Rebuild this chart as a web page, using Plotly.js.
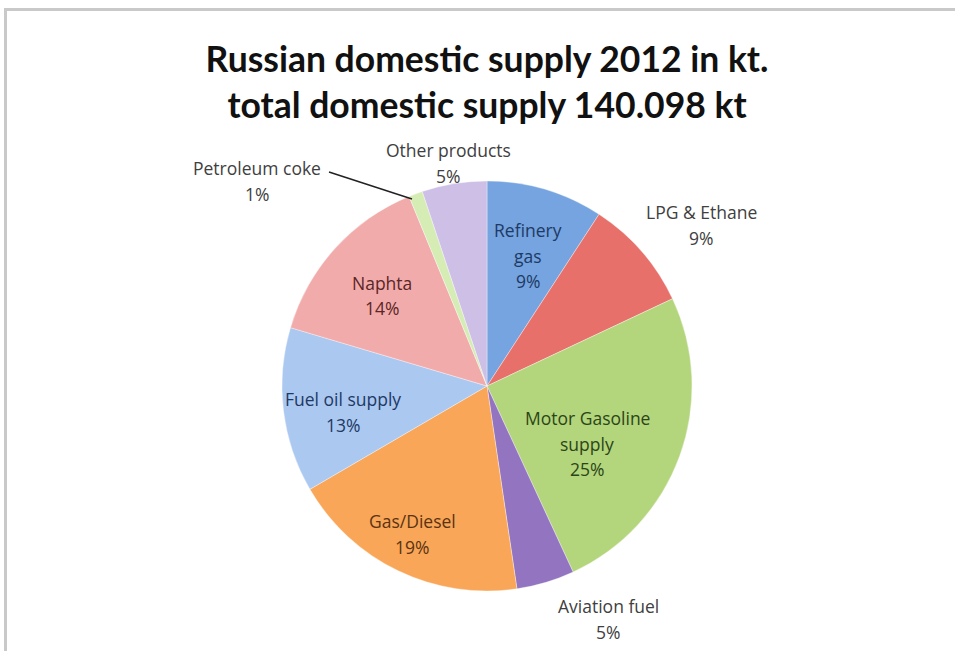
<!DOCTYPE html>
<html>
<head>
<meta charset="utf-8">
<script src="https://cdn.plot.ly/plotly-3.0.1.min.js"></script>
<style>
  html, body { margin: 0; padding: 0; background: #ffffff; }
  #frame { position: absolute; left: 4px; top: 8px; width: 951px; height: 643px;
           border-top: 3px solid #c9c9c9; border-left: 3px solid #c9c9c9; box-sizing: border-box; }
  #chart { position: absolute; left: 0; top: 0; width: 955px; height: 651px; }
</style>
</head>
<body>
<div id="frame"></div>
<div id="chart"></div>
<script>
// Data (kt); total 140.098 kt
const categories = ["Refinery gas", "LPG & Ethane", "Motor Gasoline supply", "Aviation fuel",
                    "Gas/Diesel", "Fuel oil supply", "Naphta", "Petroleum coke", "Other products"];
const valuesKt = [12890, 12330, 35160, 6400, 26520, 18210, 19890, 1540, 7158];
const labelText = ["Refinery<br>gas", "LPG & Ethane", "Motor Gasoline<br>supply", "Aviation fuel",
                   "Gas/Diesel", "Fuel oil supply", "Naphta", "Petroleum coke", "Other products"];
const sliceColors = ["#75a4e0", "#e8706b", "#b3d57c", "#9274c0", "#f9a658",
                     "#abc8f1", "#f2abab", "#d5edb5", "#cdbfe6"];
const labelColors = ["#1e3a64", "#404040", "#2c4518", "#404040", "#5a3312",
                     "#1e3a64", "#5a2626", "#404040", "#404040"];

// layout: pixel anchors of the first line of each label (centre)
const labelPos = [[528, 230], [701, 212], [587, 418], [608, 606], [412, 521],
                  [343, 399], [382, 283], [257, 168], [448, 150]];

const W = 955, H = 651;
const cx = 487, cy = 386, R = 205;
const total = valuesKt.reduce((a, b) => a + b, 0);

const annotations = [];
const lineH = 25.5;
categories.forEach((c, i) => {
  const pct = Math.round(valuesKt[i] / total * 100) + "%";
  const lines = labelText[i].split("<br>").concat([pct]);
  lines.forEach((t, j) => {
    annotations.push({
      text: t, showarrow: false, xref: "paper", yref: "paper",
      x: labelPos[i][0] / W, y: 1 - (labelPos[i][1] + j * lineH) / H,
      xanchor: "center", yanchor: "middle",
      font: {family: "'Open Sans', sans-serif", size: 17.5, color: labelColors[i]}
    });
  });
});

const data = [{
  type: "pie",
  labels: categories,
  values: valuesKt,
  sort: false,
  direction: "clockwise",
  rotation: 0,
  textinfo: "none",
  hoverinfo: "label+value+percent",
  marker: {colors: sliceColors, line: {color: "rgba(255,255,255,0.6)", width: 0.6}},
  domain: {x: [(cx - R) / W, (cx + R) / W], y: [(H - cy - R) / H, (H - cy + R) / H]},
  showlegend: false
}];

const layout = {
  width: W, height: H,
  margin: {l: 0, r: 0, t: 0, b: 0},
  paper_bgcolor: "rgba(0,0,0,0)",
  plot_bgcolor: "rgba(0,0,0,0)",
  title: {
    text: "<b>Russian domestic supply 2012 in kt.<br>total domestic supply 140.098 kt</b>",
    font: {family: "Lato, 'Open Sans', sans-serif", size: 35.5, color: "#111111"},
    x: 0.51, xanchor: "center", y: 1 - 71.5 / H, yanchor: "middle", yref: "container"
  },
  annotations: annotations,
  shapes: [{
    type: "line", xref: "paper", yref: "paper",
    x0: 329 / W, y0: 1 - 172 / H, x1: 412 / W, y1: 1 - 199 / H,
    line: {color: "#222222", width: 1.5}
  }]
};

Plotly.newPlot("chart", data, layout, {displayModeBar: false, staticPlot: true});
</script>
</body>
</html>
